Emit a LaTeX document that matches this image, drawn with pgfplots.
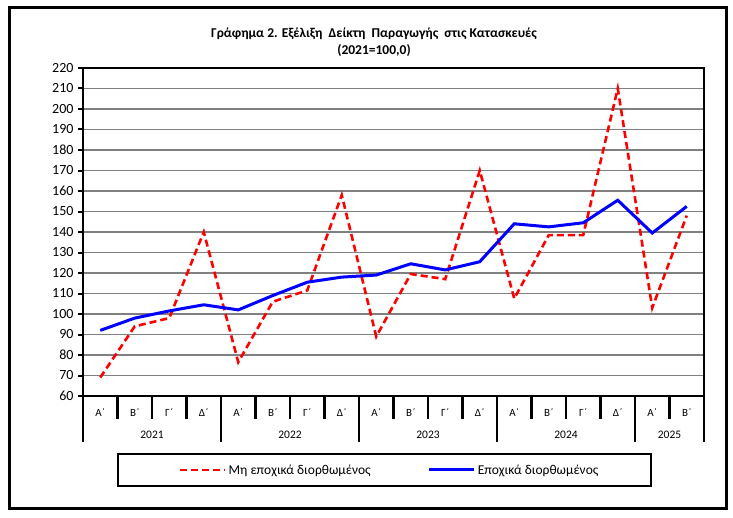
\documentclass[border=0pt]{standalone}
\usepackage{fontspec}
\setmainfont{Carlito}
\usepackage{pgfplots}
\pgfplotsset{compat=1.18}
\begin{document}
\begin{tikzpicture}
\path[use as bounding box] (0pt,0pt) rectangle (733pt,-518pt);
\draw[line width=3pt] (9pt,-8pt) rectangle (726pt,-508pt);
\node[font=\bfseries\fontsize{13.5}{17}\selectfont, align=center] at (374pt,-42pt) {Γράφημα 2. Εξέλιξη~ Δείκτη~ Παραγωγής~ στις Κατασκευές\\(2021=100,0)};
\begin{axis}[
  at={(83pt,-396pt)}, anchor=south west, scale only axis,
  width=621pt, height=328pt,
  xmin=0, xmax=18, ymin=60, ymax=220,
  clip=false,
  axis line style={line width=2.5pt, black},
  ytick={60,70,...,220},
  ytick pos=left,
  ymajorgrids, major grid style={draw=gray, line width=1.6pt},
  y tick style={black, line width=2pt},
  tick align=outside, major tick length=5pt,
  yticklabel style={font=\fontsize{14}{16}\selectfont, xshift=-1pt},
  /pgf/number format/assume math mode=true,
  xtick={0.5,1.5,...,17.5},
  x tick style={draw=none},
  xticklabels={Α΄,Β΄,Γ΄,Δ΄,Α΄,Β΄,Γ΄,Δ΄,Α΄,Β΄,Γ΄,Δ΄,Α΄,Β΄,Γ΄,Δ΄,Α΄,Β΄},
  xticklabel style={font=\fontsize{11}{13}\selectfont, anchor=center, yshift=-12pt},
  legend columns=2,
  legend style={at={(0.494,-0.2256)}, anchor=center, draw=none, fill=none,
    font=\fontsize{13.5}{16}\selectfont,
    /tikz/every even column/.append style={column sep=55pt}},
  legend image code/.code={\draw[#1] (0pt,0pt) -- (45pt,0pt);},
]
\addplot[red, line width=2.6pt, dash pattern=on 7pt off 4pt] coordinates {
(0.5,69) (1.5,94) (2.5,98) (3.5,140) (4.5,76.5) (5.5,106) (6.5,111.5) (7.5,158)
(8.5,89) (9.5,119.5) (10.5,117) (11.5,170) (12.5,107.5) (13.5,138.5) (14.5,138.5) (15.5,210)
(16.5,103) (17.5,148)};
\addlegendentry{Μη εποχικά διορθωμένος}
\addplot[blue, line width=3pt] coordinates {
(0.5,92) (1.5,98) (2.5,101.5) (3.5,104.5) (4.5,102) (5.5,109) (6.5,115.5) (7.5,118)
(8.5,119) (9.5,124.5) (10.5,121.5) (11.5,125.5) (12.5,144) (13.5,142.5) (14.5,144.5) (15.5,155.5)
(16.5,139.5) (17.5,152.5)};
\addlegendentry{Εποχικά διορθωμένος}
\pgfplotsinvokeforeach{1,2,3,5,6,7,9,10,11,13,14,15,17}{
  \draw[line width=2.5pt] (axis cs:#1,60) -- ++(0pt,-23pt);
}
\pgfplotsinvokeforeach{0,4,8,12,16,18}{
  \draw[line width=2.5pt] (axis cs:#1,60) -- ++(0pt,-46pt);
}
\node[font=\fontsize{11.5}{13}\selectfont] at (axis cs:2,60) [yshift=-39pt] {2021};
\node[font=\fontsize{11.5}{13}\selectfont] at (axis cs:6,60) [yshift=-39pt] {2022};
\node[font=\fontsize{11.5}{13}\selectfont] at (axis cs:10,60) [yshift=-39pt] {2023};
\node[font=\fontsize{11.5}{13}\selectfont] at (axis cs:14,60) [yshift=-39pt] {2024};
\node[font=\fontsize{11.5}{13}\selectfont] at (axis cs:17,60) [yshift=-39pt] {2025};
\end{axis}
\draw[line width=2.5pt] (118pt,-454pt) rectangle (651pt,-486pt);
\end{tikzpicture}
\end{document}
